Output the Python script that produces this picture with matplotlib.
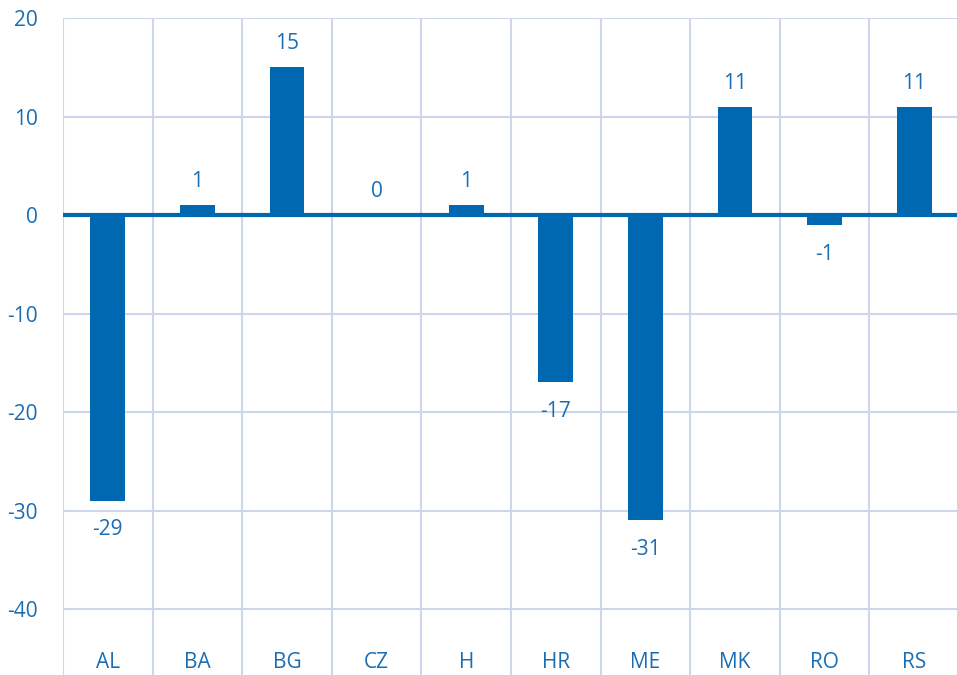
import matplotlib.pyplot as plt
import numpy as np

# data
countries = ["AL", "BA", "BG", "CZ", "H", "HR", "ME", "MK", "RO", "RS"]
values = [-29, 1, 15, 0, 1, -17, -31, 11, -1, 11]
y_ticks = [-40, -30, -20, -10, 0, 10, 20]

bar_color = "#0068b1"
text_color = "#1a6db3"
grid_color = "#cdd6ec"

plt.rcParams['font.family'] = ['Open Sans', 'DejaVu Sans']

W, H = 957, 675
fig = plt.figure(figsize=(W / 100, H / 100), dpi=100)
# axes: left edge at x=63px, top at y=18px, runs off the bottom/right edges
ax = fig.add_axes([63 / W, 0, 896 / W, (H - 18) / H])

x = np.arange(len(countries))
ax.bar(x, values, width=0.39, color=bar_color, zorder=3)

ax.set_xlim(-0.5, len(countries) - 0.5)
ax.set_ylim(-46.7, 20)

# grid
for yv in y_ticks:
    ax.axhline(yv, color=grid_color, lw=1.5, zorder=1)
for xv in np.arange(-0.5, len(countries), 1):
    ax.axvline(xv, color=grid_color, lw=1.5, zorder=1)
ax.axhline(0, color=bar_color, lw=3, zorder=4)

for s in ax.spines.values():
    s.set_visible(False)

fs = 15
ax.set_yticks(y_ticks)
ax.set_yticklabels([str(v) for v in y_ticks])
ax.tick_params(axis='y', length=0, pad=18, labelsize=fs, labelcolor=text_color)
ax.set_xticks([])

# category labels inside the bottom strip
for i, c in enumerate(countries):
    ax.text(i, -45.4, c, ha='center', va='center', fontsize=fs, color=text_color)

# value labels
for i, v in enumerate(values):
    if v >= 0:
        ax.annotate(str(v), (i, v), xytext=(0, 17), textcoords='offset points',
                    ha='center', va='center', fontsize=fs, color=text_color)
    else:
        ax.annotate(str(v), (i, v), xytext=(0, -21), textcoords='offset points',
                    ha='center', va='center', fontsize=fs, color=text_color)

fig.savefig("out.png", dpi=100)
